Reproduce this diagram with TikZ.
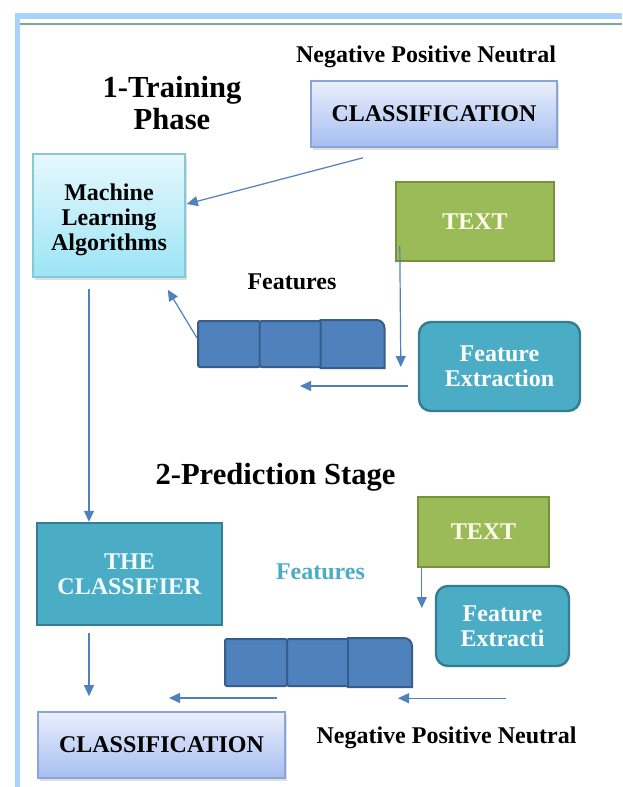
\documentclass[tikz,border=0pt]{standalone}
\usepackage{fontspec}
\setmainfont{Liberation Serif}
\usetikzlibrary{calc,arrows.meta,shadows}
\definecolor{arrowblue}{HTML}{4F81BD}
\definecolor{cellblue}{HTML}{4F81BD}
\definecolor{celldark}{HTML}{385D8A}
\definecolor{tealfill}{HTML}{4BACC6}
\definecolor{tealdark}{HTML}{357D91}
\definecolor{greenfill}{HTML}{9BBB59}
\definecolor{greendark}{HTML}{76923C}
\definecolor{frameblue}{HTML}{A9D3FB}
\definecolor{framegreen}{HTML}{7FA99B}
\definecolor{clstop}{HTML}{EAEFFC}
\definecolor{clsbot}{HTML}{A6BEF0}
\definecolor{clsline}{HTML}{8AA5D8}
\definecolor{mltop}{HTML}{E6F8FD}
\definecolor{mlbot}{HTML}{9CE4F5}
\definecolor{mlline}{HTML}{86C8DA}

\begin{document}
\begin{tikzpicture}[x=0.5pt,y=-0.5pt,font=\fontsize{12}{12.3}\selectfont\bfseries,
  lbl/.style={inner sep=0pt,align=center},
  clsbox/.style={draw=clsline,line width=0.8pt,top color=clstop,bottom color=clsbot,
    drop shadow={opacity=0.25,shadow xshift=1pt,shadow yshift=-1.5pt},inner sep=0pt,align=center},
  mlbox/.style={draw=mlline,line width=0.8pt,top color=mltop,bottom color=mlbot,
    drop shadow={opacity=0.25,shadow xshift=1pt,shadow yshift=-1.5pt},inner sep=0pt,align=center},
  textbox/.style={draw=greendark,line width=1.2pt,fill=greenfill,text=yellow!8,inner sep=0pt},
  febox/.style={draw=tealdark,line width=1.2pt,fill=tealfill,text=white,rounded corners=6pt,inner sep=0pt,align=center},
  cell/.style={draw=celldark,line width=1pt,fill=cellblue,minimum width=31pt,inner sep=0pt,rounded corners=1pt},
  link/.style={arrowblue,line width=0.6pt,-{Triangle[length=5.5pt,width=5pt]}}]
\useasboundingbox (0,0) rectangle (622,787);
\fill[white] (0,0) rectangle (622,787);
\fill[frameblue] (15,13) rectangle (622,19);
\fill[frameblue] (15,13) rectangle (20,787);
\draw[framegreen,line width=0.7pt] (20,24) -- (622,24);

\node[lbl] (neg1) at (426,57) {Negative Positive Neutral};
\node[lbl,font=\fontsize{15.3}{16}\selectfont\bfseries] (train) at (172,103) {1-Training\\Phase};
\node[clsbox,minimum width=123pt,minimum height=33pt] (cls1) at (434,114) {CLASSIFICATION};
\node[mlbox,minimum width=76pt,minimum height=61.5pt] (mla) at (109,215.5) {\rule{0pt}{12.6pt}Machine\\Learning\\Algorithms};
\node[textbox,minimum width=79pt,minimum height=39.5pt] (text1) at (475,221.5) {TEXT};
\node[lbl] (featlbl1) at (292,282) {Features};
\node[cell,minimum height=23pt] (c11) at (229,344) {};
\node[cell,minimum height=23pt] (c12) at (290.5,344) {};
\node[cell,minimum height=23pt,draw=none,fill=none] (c13) at (352.5,344) {};
\filldraw[draw=celldark,line width=1pt,fill=cellblue] (c13.south west) -- (c13.north west)
  -- ($(c13.north east)+(-8,0)$) arc[start angle=90,end angle=0,radius=4pt] -- (c13.south east) -- cycle;
\node[febox,minimum width=80.5pt,minimum height=44.5pt] (fe1) at (499.5,366.5) {Feature\\Extraction};

\coordinate (s1) at ($(cls1.south)+(-71,10)$);
\coordinate (s2) at ($(text1.south west)+(5,-16)$);
\coordinate (s3) at ($(fe1.west)+(-10,19.5)$);
\coordinate (s4) at ($(c11.west)+(0,-6)$);
\draw[link] (s1) -- ($(mla.east)+(1,-11.5)$);
\draw[link] (s2) -- ($(fe1.west)+(-17,0.5)$);
\draw[link] (s3) -- ($(s3 -| c12.south)+(9.5,0)$);
\draw[link] (s4) -- ($(mla.south east)+(-18,12)$);

\node[lbl,font=\fontsize{15.3}{16}\selectfont\bfseries] (pred) at (275.5,477) {2-Prediction Stage};
\node[febox,rounded corners=0pt,minimum width=92.5pt,minimum height=51pt,text=cyan!5] (clf) at (129.5,574) {THE\\CLASSIFIER};
\node[lbl,text=tealfill] (featlbl2) at (320.5,572) {Features};
\node[textbox,minimum width=65.5pt,minimum height=35pt] (text2) at (483.5,532) {TEXT};
\node[febox,minimum width=66.5pt,minimum height=40pt] (fe2) at (502.5,626) {Feature\\Extracti};
\node[cell,minimum height=23.5pt] (c21) at (256,662.5) {};
\node[cell,minimum height=23.5pt] (c22) at (318,662.5) {};
\node[cell,minimum height=23.5pt,draw=none,fill=none] (c23) at (380,662.5) {};
\filldraw[draw=celldark,line width=1pt,fill=cellblue] (c23.south west) -- (c23.north west)
  -- ($(c23.north east)+(-8,0)$) arc[start angle=90,end angle=0,radius=4pt] -- (c23.south east) -- cycle;
\node[clsbox,minimum width=123.5pt,minimum height=33pt] (cls2) at (161.5,745) {CLASSIFICATION};
\node[lbl] (neg2) at (446.5,738) {Negative Positive Neutral};

\coordinate (s5) at ($(mla.south)+(-20,11)$);
\coordinate (s6) at ($(text2.south west)+(5,0)$);
\coordinate (s7) at ($(fe2.south)+(3.5,31)$);
\coordinate (s8) at ($(c22.south)+(-41,11)$);
\coordinate (s9) at ($(clf.south)+(-40.5,7)$);
\draw[link] (s5) -- (s5 |- clf.north);
\draw[link] (s6) -- ($(s6 |- fe2.west)+(0,-18)$);
\draw[link] (s7) -- ($(s7 -| c23.south)+(18,0)$);
\draw[link] (s8) -- ($(s8 -| cls2.north)+(7.5,0)$);
\draw[link] (s9) -- ($(s9 |- cls2.north)+(0,-15)$);
\end{tikzpicture}
\end{document}
